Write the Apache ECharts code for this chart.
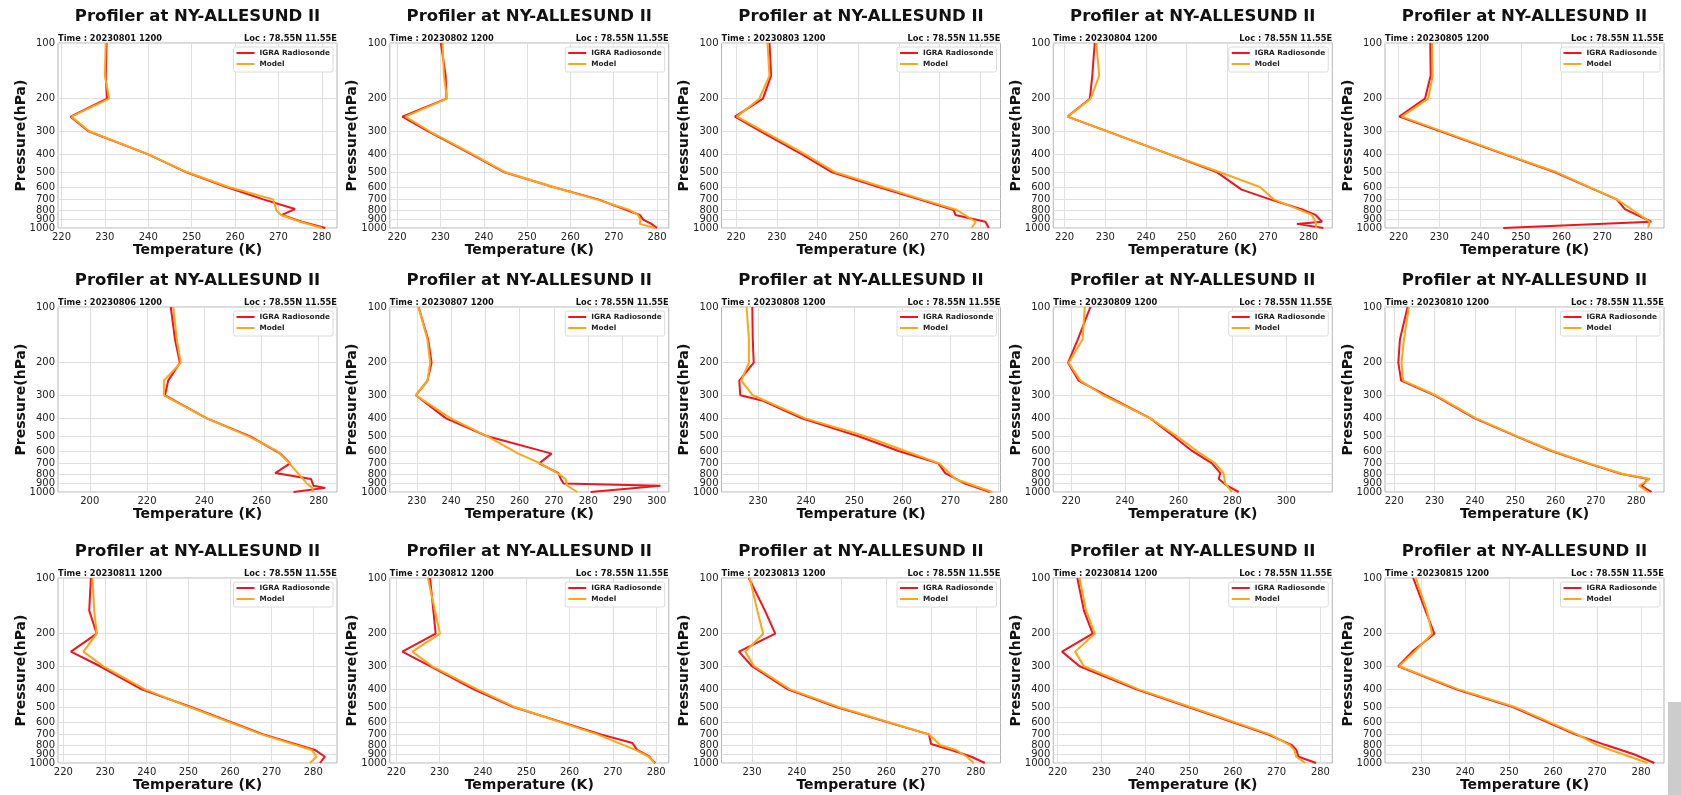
<!DOCTYPE html>
<html><head><meta charset="utf-8">
<script src="https://cdn.jsdelivr.net/npm/echarts@6/dist/echarts.min.js"></script>
<style>html,body{margin:0;padding:0;background:#fff}#c{width:1681px;height:795px}</style>
</head><body><div id="c"></div>
<script>
const stationTitle = 'Profiler at NY-ALLESUND II';
const locText = 'Loc : 78.55N 11.55E';
const seriesNames = ['IGRA Radiosonde', 'Model'];
const dates = ['20230801','20230802','20230803','20230804','20230805','20230806','20230807','20230808',
  '20230809','20230810','20230811','20230812','20230813','20230814','20230815'];
const pressureTicks = [100,200,300,400,500,600,700,800,900,1000];
const xMin  = [219.2,218.3,216.4,217.2,216.7,188.9,222.1,222.4,213.4,217.7,218.7,218.5,223.2,219,221.8];
const xMax  = [283.5,282.7,285.0,285.8,285.1,286.4,303.5,280.4,317.1,286.9,285.7,282.9,285.5,282.7,285.2];
const xStep = [10,10,10,10,10,20,10,10,20,10,10,10,10,10,10];

// [temperature K, pressure hPa]
const igra01 = [[230.4,100],[230.2,150],[230.5,200],[222.1,250],[226.2,300],[240,400],[248.8,500],[258,600],[266.5,700],[273.8,790],[270.8,850],[275.4,925],[280.8,1000]];
const model01 = [[230.2,100],[230,150],[231,200],[222.3,250],[226.4,300],[240,400],[249,500],[258.5,600],[268.8,700],[269.5,800],[270.6,850],[275,925],[280,1000]];
const igra02 = [[230.1,100],[231.2,150],[231.4,200],[221.2,250],[227.2,300],[237.2,400],[244.8,500],[256,600],[266.4,700],[276,850],[276.8,900],[278.7,950],[280,1000]];
const model02 = [[230.5,100],[230.8,150],[231.5,200],[221.9,250],[227.5,300],[237.5,400],[245,500],[256,600],[266,700],[273.7,800],[275.6,850],[276.2,900],[276,950],[279.5,1000]];
const igra03 = [[228.2,100],[228.6,150],[226.6,200],[219.7,250],[226,300],[236.2,400],[243.6,500],[255,600],[265,700],[273.5,800],[273.9,850],[281.3,925],[282.1,1000]];
const model03 = [[227.7,100],[228.2,150],[225.7,200],[220.2,250],[226.8,300],[237,400],[244.4,500],[256,600],[265.7,700],[274.3,800],[278.9,925],[277.9,1000]];
const igra04 = [[227.4,100],[226.8,150],[226.2,200],[220.7,250],[245.8,400],[257.5,500],[263.5,620],[270.5,700],[278.8,800],[281.7,850],[283.3,925],[277.1,950],[283.6,1000]];
const model04 = [[227.8,100],[228.5,150],[226.4,200],[220.7,250],[245.8,400],[258.2,500],[268,600],[271.4,700],[280.8,850],[281.7,925],[281.9,1000]];
const igra05 = [[227.8,100],[227.9,150],[226.5,200],[220.2,250],[246,400],[258.4,500],[273.5,700],[275.5,790],[278.4,850],[282,925],[245.7,1000]];
const model05 = [[228.2,100],[228.4,150],[227.3,200],[220.8,250],[246.3,400],[258.8,500],[273.5,700],[276.7,780],[281.6,925],[281.2,1000]];
const igra06 = [[228.3,100],[229.8,150],[231.5,200],[227.4,250],[226.3,300],[240.9,400],[256.1,500],[266.6,620],[270,700],[264.8,790],[277.3,850],[278.2,925],[282.3,950],[271.2,1000]];
const model06 = [[229.2,100],[230.4,150],[231.8,200],[225.9,250],[225.9,300],[240.9,400],[255.5,500],[265.4,600],[269.8,700],[273,800],[275.9,900],[277.7,950],[278.2,1000]];
const igra07 = [[230.5,100],[233.3,150],[234.3,200],[233.1,250],[229.7,300],[238.5,400],[250.6,500],[269.3,620],[265.7,700],[271.3,790],[272,850],[272.8,900],[301.1,925],[280.7,1000]];
const model07 = [[230.5,100],[233.1,150],[233.9,200],[233.1,250],[229.7,300],[239.9,400],[250.6,500],[259.6,620],[266,700],[271,790],[273.4,850],[273.9,925],[276.8,1000]];
const igra08 = [[228.8,100],[228.9,150],[229.1,200],[226.1,250],[226.3,300],[230.8,320],[239.1,400],[250.9,500],[259.2,600],[267.5,700],[268.9,790],[273,900],[278.2,1000]];
const model08 = [[227.6,100],[228.1,150],[228.1,200],[226.5,250],[228.9,300],[239.8,400],[252.3,500],[260.6,600],[267.7,700],[271,850],[278.7,1000]];
const igra09 = [[227.2,100],[222.5,150],[218.9,200],[222.8,250],[233,300],[249.5,400],[258.1,500],[265,600],[272.4,700],[275.5,790],[274.9,850],[278,925],[282.3,1000]];
const model09 = [[225.1,100],[224.3,150],[219.1,200],[223.5,250],[232,300],[249.5,400],[259.4,500],[266.8,600],[273.6,700],[276.7,790],[277.3,900],[279.8,1000]];
const igra10 = [[223.3,100],[221.4,150],[221,200],[221.7,250],[230,300],[240,400],[250.3,500],[259,600],[268,700],[276.4,800],[283,850],[281.3,925],[283.8,1000]];
const model10 = [[223.6,100],[222.4,150],[221.8,200],[222.2,250],[230.3,300],[240.3,400],[250.5,500],[259.3,600],[268.3,700],[276.7,800],[283.4,850],[280.7,925],[283,1000]];
const igra11 = [[226.6,100],[226.2,150],[228,200],[221.8,250],[228.8,300],[238.8,400],[250.8,500],[268,700],[280.4,850],[282.8,925],[281.6,1000]];
const model11 = [[227,100],[227.4,150],[228,200],[224.8,250],[229.6,300],[239.6,400],[250.4,500],[267.6,700],[279.6,850],[280.8,925],[279.2,1000]];
const igra12 = [[227.8,100],[229.1,200],[221.4,250],[227.9,300],[237.9,400],[247.2,500],[267.2,700],[274.5,780],[275.6,850],[278.5,925],[278.8,950],[279.8,1000]];
const model12 = [[227.3,100],[230.1,200],[223.7,250],[228.3,300],[238.7,400],[247.5,500],[266.4,700],[275.2,850],[278.3,925],[279.6,1000]];
const igra13 = [[229.3,100],[232.9,150],[235.2,200],[227.1,250],[230,300],[238,400],[249,500],[269.5,700],[270,790],[274.5,850],[279,925],[282,1000]];
const model13 = [[229.5,100],[231.2,150],[232.5,200],[228.5,250],[230.5,300],[238.5,400],[249.5,500],[269.5,700],[272,800],[275.5,850],[278,925],[279.5,1000]];
const igra14 = [[224.5,100],[226,150],[228,200],[221,250],[225,300],[238,400],[250,500],[268,700],[273.5,800],[274.5,850],[275,925],[279,1000]];
const model14 = [[225,100],[226.5,150],[228.5,200],[224,250],[226,300],[238.5,400],[250.5,500],[268.5,700],[273,800],[274,850],[274.5,925],[276.5,1000]];
const igra15 = [[228.2,100],[231,150],[233,200],[228,250],[224.8,300],[238,400],[251,500],[265,700],[272,800],[278.5,900],[283,1000]];
const model15 = [[228.8,100],[231.3,150],[232.5,200],[228.5,250],[225,300],[238.5,400],[251.5,500],[265.5,700],[270,800],[276,900],[281.5,1000]];

const igraData = [igra01,igra02,igra03,igra04,igra05,igra06,igra07,igra08,igra09,igra10,igra11,igra12,igra13,igra14,igra15];
const modelData = [model01,model02,model03,model04,model05,model06,model07,model08,model09,model10,model11,model12,model13,model14,model15];

const FONT = '"DejaVu Sans", sans-serif';
const colLeft = [58, 389.75, 721.5, 1053.25, 1385];
const rowTop = [43, 307, 578];
const plotW = 279, plotH = 185;
const W = 1681;

const lp = p => Math.min(3, Math.max(2, Math.log10(p)));
const logTicks = pressureTicks.map(lp);
// labels split over two overlaid axes so that the crowded 800/900/1000 labels are all kept
const labelsA = logTicks.filter((v, k) => k % 2 === 0);
const labelsB = logTicks.filter((v, k) => k % 2 === 1);
const fmtP = v => String(Math.round(Math.pow(10, v)));

const grids = [], xAxes = [], yAxes = [], yAxesExtra = [], series = [], legends = [], graphics = [];
for (let i = 0; i < 15; i++) {
  const r = Math.floor(i / 5), c = i % 5;
  const L = colLeft[c], T = rowTop[r];
  grids.push({ left: L, top: T, width: plotW, height: plotH, show: true,
    borderColor: '#b5b5b5', borderWidth: 1, backgroundColor: 'transparent', containLabel: false });
  const ticks = [];
  for (let v = Math.ceil(xMin[i] / xStep[i]) * xStep[i]; v <= xMax[i]; v += xStep[i]) ticks.push(v);
  xAxes.push({ type: 'value', gridIndex: i, min: xMin[i], max: xMax[i],
    axisLine: { show: false }, axisTick: { show: false, customValues: ticks },
    axisLabel: { customValues: ticks, fontSize: 10, color: '#222', margin: 4, fontFamily: FONT,
      showMinLabel: true, showMaxLabel: true, hideOverlap: false },
    splitLine: { show: true, lineStyle: { color: '#e0e0e0', width: 1 } },
    name: 'Temperature (K)', nameLocation: 'middle', nameGap: 13,
    nameTextStyle: { fontSize: 14, fontWeight: 'bold', color: '#111', fontFamily: FONT } });
  yAxes.push({ type: 'value', gridIndex: i, min: 2, max: 3, inverse: true,
    axisLine: { show: false }, axisTick: { show: false, customValues: logTicks },
    axisLabel: { customValues: labelsA, fontSize: 10, color: '#222', margin: 3, fontFamily: FONT,
      showMinLabel: true, showMaxLabel: true, hideOverlap: false, formatter: fmtP },
    splitLine: { show: true, lineStyle: { color: '#e0e0e0', width: 1 } },
    name: 'Pressure(hPa)', nameLocation: 'middle', nameGap: 30, nameRotate: 90,
    nameTextStyle: { fontSize: 14, fontWeight: 'bold', color: '#111', fontFamily: FONT } });
  yAxesExtra.push({ type: 'value', gridIndex: i, min: 2, max: 3, inverse: true, position: 'left',
    axisLine: { show: false }, axisTick: { show: false, customValues: labelsB },
    axisLabel: { customValues: labelsB, fontSize: 10, color: '#222', margin: 3, fontFamily: FONT,
      showMinLabel: true, showMaxLabel: true, hideOverlap: false, formatter: fmtP },
    splitLine: { show: false } });
  series.push({ name: seriesNames[0], type: 'line', xAxisIndex: i, yAxisIndex: i,
    data: igraData[i].map(d => [d[0], lp(d[1])]), showSymbol: false, symbol: 'none',
    lineStyle: { color: '#f0141e', width: 2 }, itemStyle: { color: '#f0141e' } });
  series.push({ name: seriesNames[1], type: 'line', xAxisIndex: i, yAxisIndex: i,
    data: modelData[i].map(d => [d[0], lp(d[1])]), showSymbol: false, symbol: 'none',
    lineStyle: { color: '#ffa51a', width: 2 }, itemStyle: { color: '#ffa51a' } });
  legends.push({ data: seriesNames, orient: 'vertical', top: T + 4, right: W - (L + plotW) + 4,
    icon: 'rect', itemWidth: 18, itemHeight: 2, itemGap: 3,
    backgroundColor: '#fff', borderColor: '#dcdcdc', borderWidth: 1, borderRadius: 2,
    padding: [2, 3, 4, 3],
    textStyle: { fontSize: 7.3, lineHeight: 8, fontWeight: 'bold', color: '#222', fontFamily: FONT } });
  graphics.push({ type: 'text', x: L + plotW / 2, y: T - 26,
    style: { text: stationTitle, fill: '#111', font: 'bold 16.5px "DejaVu Sans"', align: 'center', verticalAlign: 'middle' } });
  graphics.push({ type: 'text', x: L, y: T - 4.5,
    style: { text: 'Time : ' + dates[i] + ' 1200', fill: '#111', font: 'bold 8.3px "DejaVu Sans"', align: 'left', verticalAlign: 'middle' } });
  graphics.push({ type: 'text', x: L + plotW, y: T - 4.5,
    style: { text: locText, fill: '#111', font: 'bold 8.3px "DejaVu Sans"', align: 'right', verticalAlign: 'middle' } });
}
graphics.push({ type: 'rect', shape: { x: 1668, y: 702, width: 13, height: 93 }, style: { fill: '#cccccc' } });

const chart = echarts.init(document.getElementById('c'), null, { renderer: 'canvas' });
chart.setOption({
  animation: false,
  backgroundColor: '#fff',
  grid: grids, xAxis: xAxes, yAxis: yAxes.concat(yAxesExtra), series: series, legend: legends, graphic: graphics
});
</script></body></html>
